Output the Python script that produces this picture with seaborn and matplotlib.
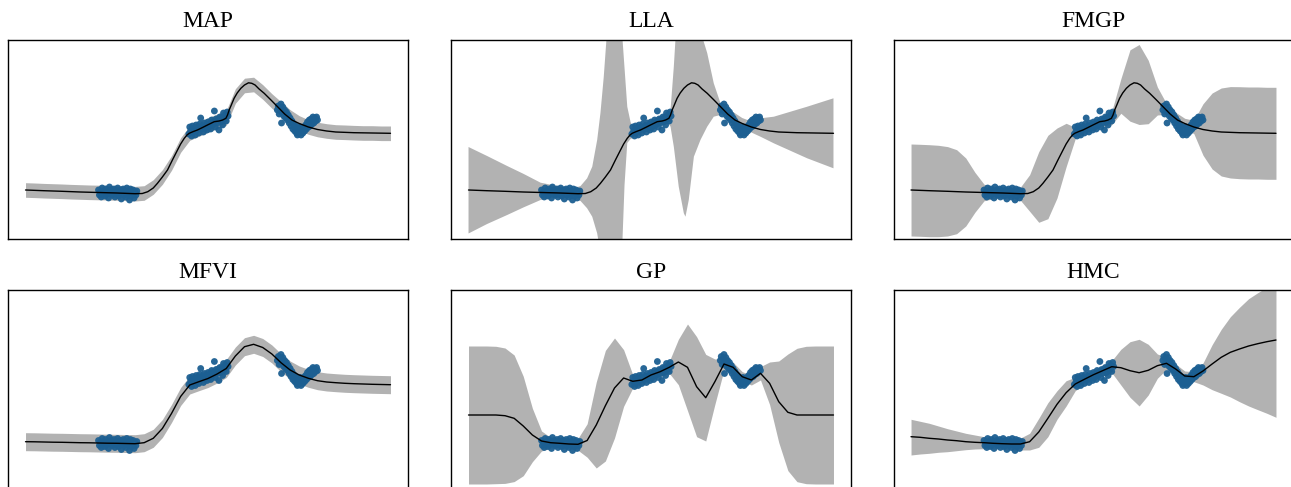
import numpy as np
import pandas as pd
import matplotlib.pyplot as plt
import seaborn as sns

x_grid = [-1.00, -0.95, -0.90, -0.85, -0.80, -0.75, -0.70, -0.65, -0.60, -0.55,
          -0.50, -0.45, -0.40, -0.35, -0.30, -0.25, -0.20, -0.15, -0.10, -0.05,
          0.00, 0.05, 0.10, 0.15, 0.20, 0.25, 0.30, 0.35, 0.40, 0.45,
          0.50, 0.55, 0.60, 0.65, 0.70, 0.75, 0.80, 0.85, 0.90, 0.95, 1.00]

# MAP network mean on the grid (centre of MAP / FMGP bands)
mean_map = [-0.51, -0.513, -0.517, -0.52, -0.523, -0.527, -0.53, -0.533, -0.535, -0.537,
            -0.54, -0.543, -0.547, -0.54, -0.48, -0.38, -0.24, -0.06, 0.06, 0.10,
            0.14, 0.177, 0.21, 0.43, 0.535, 0.545, 0.47, 0.38, 0.30, 0.22,
            0.16, 0.12, 0.095, 0.08, 0.07, 0.067, 0.063, 0.06, 0.06, 0.057, 0.057]
noise_map = 0.073

# same MAP mean read more finely for the drawn line (MAP, LLA, FMGP)
x_mline = [-1.00, -0.90, -0.80, -0.70, -0.60, -0.50, -0.40, -0.36, -0.33, -0.30,
           -0.277, -0.25, -0.222, -0.195, -0.167, -0.15, -0.13, -0.115, -0.103, -0.08,
           -0.058, -0.03, -0.003, 0.034, 0.061, 0.08, 0.098, 0.107, 0.116, 0.13,
           0.143, 0.16, 0.18, 0.20, 0.222, 0.24, 0.258, 0.28, 0.308, 0.345,
           0.381, 0.42, 0.46, 0.50, 0.55, 0.60, 0.65, 0.70, 0.80, 0.90, 1.00]
y_mline = [-0.51, -0.517, -0.523, -0.53, -0.535, -0.54, -0.547, -0.545, -0.527, -0.49,
           -0.443, -0.38, -0.31, -0.21, -0.11, -0.05, 0.007, 0.04, 0.057, 0.075,
           0.09, 0.115, 0.14, 0.173, 0.18, 0.19, 0.207, 0.24, 0.29, 0.35,
           0.407, 0.46, 0.507, 0.54, 0.562, 0.557, 0.54, 0.50, 0.457, 0.39,
           0.323, 0.25, 0.19, 0.155, 0.12, 0.095, 0.08, 0.07, 0.063, 0.06, 0.057]

# MFVI
mean_mfvi = [-0.522, -0.523, -0.525, -0.527, -0.528, -0.53, -0.532, -0.533, -0.535, -0.537,
             -0.538, -0.54, -0.542, -0.532, -0.488, -0.39, -0.24, -0.07, 0.045, 0.078,
             0.11, 0.155, 0.21, 0.335, 0.428, 0.452, 0.42, 0.355, 0.268, 0.195,
             0.145, 0.112, 0.088, 0.075, 0.068, 0.062, 0.058, 0.055, 0.052, 0.05, 0.048]
noise_mfvi = 0.09

# LLA band (own x positions, spikes need more points)
x_lla = [-1.0, -0.898, -0.788, -0.697, -0.605, -0.514, -0.423, -0.386, -0.35, -0.322,
         -0.295, -0.277, -0.259, -0.24, -0.213, -0.185, -0.167, -0.156, -0.145, -0.13,
         -0.112, -0.1, -0.05, 0.0, 0.05, 0.09, 0.107, 0.125, 0.134, 0.152,
         0.18, 0.189, 0.207, 0.235, 0.271, 0.308, 0.344, 0.381, 0.4, 0.45,
         0.5, 0.55, 0.6, 0.673, 0.856, 1.0]
hi_lla = [-0.08, -0.17, -0.27, -0.35, -0.437, -0.47, -0.493, -0.47, -0.393, -0.277,
          -0.01, 0.26, 0.62, 1.1, 1.99, 2.19, 1.69, 0.995, 0.71, 0.323,
          0.17, 0.11, 0.15, 0.19, 0.23, 0.28, 0.29, 0.723, 0.995, 1.49,
          1.79, 1.79, 1.64, 1.28, 1.08, 0.86, 0.557, 0.357, 0.35, 0.27,
          0.21, 0.175, 0.207, 0.223, 0.323, 0.407]
lo_lla = [-0.945, -0.85, -0.76, -0.683, -0.61, -0.583, -0.60, -0.62, -0.693, -0.777,
          -0.943, -1.14, -1.34, -1.81, -2.61, -2.81, -2.11, -0.995, -0.46, -0.04,
          0.0, 0.01, 0.05, 0.09, 0.13, 0.17, 0.123, -0.077, -0.21, -0.477,
          -0.743, -0.777, -0.61, -0.177, -0.01, 0.123, 0.223, 0.24, 0.25, 0.17,
          0.11, 0.065, 0.023, -0.043, -0.193, -0.293]

# FMGP half width around the MAP mean
w_fmgp = [0.46, 0.46, 0.46, 0.457, 0.447, 0.42, 0.34, 0.2, 0.083, 0.06,
          0.053, 0.053, 0.067, 0.183, 0.353, 0.417, 0.35, 0.217, 0.057, 0.05,
          0.05, 0.05, 0.067, 0.173, 0.357, 0.4, 0.317, 0.14, 0.053, 0.047,
          0.047, 0.067, 0.257, 0.38, 0.44, 0.457, 0.46, 0.46, 0.46, 0.46, 0.46]

# GP
mean_gp = [-0.255, -0.255, -0.255, -0.255, -0.262, -0.288, -0.365, -0.455, -0.515, -0.532,
           -0.538, -0.545, -0.548, -0.51, -0.355, -0.162, 0.015, 0.115, 0.082, 0.095,
           0.145, 0.178, 0.222, 0.275, 0.222, 0.028, -0.082, 0.078, 0.255, 0.222,
           0.128, 0.095, 0.162, 0.062, -0.122, -0.228, -0.255, -0.255, -0.255, -0.255, -0.255]
w_gp = [0.69, 0.69, 0.69, 0.687, 0.677, 0.633, 0.497, 0.267, 0.1, 0.053,
        0.05, 0.05, 0.06, 0.167, 0.43, 0.553, 0.5, 0.283, 0.067, 0.05,
        0.05, 0.05, 0.06, 0.227, 0.433, 0.5, 0.433, 0.227, 0.06, 0.05,
        0.05, 0.05, 0.067, 0.213, 0.407, 0.583, 0.667, 0.687, 0.69, 0.69, 0.69]

# HMC
mean_hmc = [-0.472, -0.478, -0.488, -0.495, -0.505, -0.512, -0.522, -0.528, -0.532, -0.538,
            -0.542, -0.545, -0.545, -0.522, -0.425, -0.288, -0.148, -0.032, 0.055, 0.102,
            0.148, 0.188, 0.228, 0.218, 0.188, 0.168, 0.192, 0.238, 0.262, 0.205,
            0.135, 0.128, 0.185, 0.255, 0.322, 0.372, 0.405, 0.435, 0.458, 0.478, 0.495]
hi_hmc = [-0.298, -0.318, -0.338, -0.365, -0.392, -0.415, -0.438, -0.455, -0.472, -0.485,
          -0.488, -0.492, -0.485, -0.438, -0.288, -0.132, -0.012, 0.088, 0.122, 0.152,
          0.198, 0.238, 0.288, 0.402, 0.478, 0.502, 0.452, 0.355, 0.322, 0.255,
          0.185, 0.178, 0.265, 0.448, 0.602, 0.728, 0.822, 0.908, 0.968, 1.022, 1.078]
lo_hmc = [-0.655, -0.645, -0.638, -0.628, -0.622, -0.612, -0.602, -0.595, -0.592, -0.592,
          -0.595, -0.598, -0.605, -0.605, -0.578, -0.472, -0.298, -0.165, -0.012, 0.052,
          0.098, 0.138, 0.168, 0.045, -0.078, -0.165, -0.055, 0.112, 0.202, 0.155,
          0.085, 0.078, 0.045, -0.002, -0.038, -0.075, -0.122, -0.165, -0.202, -0.238, -0.278]

# --- training points (three clusters) ---
xa = [-0.600, -0.595, -0.590, -0.585, -0.580, -0.575, -0.570, -0.565, -0.560, -0.555,
      -0.550, -0.545, -0.540, -0.535, -0.530, -0.525, -0.520, -0.515, -0.510, -0.505,
      -0.500, -0.495, -0.490, -0.485, -0.480, -0.475, -0.470, -0.465, -0.460, -0.455,
      -0.450, -0.445, -0.440, -0.435, -0.430, -0.425, -0.420, -0.415, -0.410, -0.405,
      -0.400, -0.395, -0.390]
ya = [-0.51, -0.56, -0.53, -0.58, -0.49, -0.54, -0.52, -0.57, -0.50, -0.55,
      -0.53, -0.59, -0.48, -0.54, -0.51, -0.56, -0.53, -0.50, -0.58, -0.55,
      -0.52, -0.49, -0.57, -0.54, -0.51, -0.60, -0.53, -0.50, -0.56, -0.52,
      -0.58, -0.49, -0.55, -0.53, -0.61, -0.50, -0.57, -0.54, -0.51, -0.59,
      -0.53, -0.56, -0.52]
xb = [-0.105, -0.10, -0.095, -0.09, -0.085, -0.08, -0.075, -0.07, -0.065, -0.06,
      -0.055, -0.05, -0.045, -0.04, -0.035, -0.03, -0.025, -0.02, -0.015, -0.01,
      -0.005, 0.00, 0.005, 0.01, 0.015, 0.02, 0.025, 0.03, 0.035, 0.04,
      0.045, 0.05, 0.055, 0.06, 0.065, 0.07, 0.075, 0.08, 0.085, 0.09,
      0.095, 0.10, 0.105, 0.11]
yb = [0.05, 0.12, 0.08, 0.03, 0.13, 0.07, 0.10, 0.04, 0.14, 0.09,
      0.12, 0.06, 0.15, 0.21, 0.10, 0.13, 0.07, 0.16, 0.11, 0.14,
      0.09, 0.17, 0.12, 0.15, 0.10, 0.19, 0.14, 0.17, 0.28, 0.12,
      0.20, 0.16, 0.19, 0.09, 0.22, 0.17, 0.21, 0.14, 0.26, 0.20,
      0.24, 0.18, 0.27, 0.23]
xc = [0.380, 0.385, 0.39, 0.395, 0.40, 0.403, 0.405, 0.41, 0.415, 0.42,
      0.425, 0.43, 0.435, 0.44, 0.445, 0.45, 0.455, 0.46, 0.465, 0.47,
      0.475, 0.48, 0.485, 0.49, 0.495, 0.50, 0.505, 0.51, 0.515, 0.52,
      0.525, 0.53, 0.535, 0.54, 0.545, 0.55, 0.555, 0.56, 0.565, 0.57,
      0.575, 0.58, 0.585, 0.59, 0.595, 0.60]
yc = [0.29, 0.33, 0.25, 0.31, 0.35, 0.16, 0.27, 0.32, 0.23, 0.29,
      0.21, 0.27, 0.19, 0.24, 0.16, 0.21, 0.13, 0.18, 0.10, 0.15,
      0.08, 0.13, 0.06, 0.04, 0.11, 0.06, 0.12, 0.04, 0.09, 0.06,
      0.12, 0.08, 0.14, 0.10, 0.17, 0.12, 0.19, 0.13, 0.20, 0.15,
      0.22, 0.16, 0.21, 0.18, 0.22, 0.19]

titles = ["MAP", "LLA", "FMGP", "MFVI", "GP", "HMC"]

pts = pd.DataFrame({"x": xa + xb + xc, "y": ya + yb + yc})

m_map = np.array(mean_map)
m_mfvi = np.array(mean_mfvi)
m_gp = np.array(mean_gp)

# (x band, lower, upper, x mean, mean) for each panel
panels = {
    "MAP": (x_grid, m_map - noise_map, m_map + noise_map, x_mline, y_mline),
    "LLA": (x_lla, lo_lla, hi_lla, x_mline, y_mline),
    "FMGP": (x_grid, m_map - np.array(w_fmgp), m_map + np.array(w_fmgp), x_mline, y_mline),
    "MFVI": (x_grid, m_mfvi - noise_mfvi, m_mfvi + noise_mfvi, x_grid, mean_mfvi),
    "GP": (x_grid, m_gp - np.array(w_gp), m_gp + np.array(w_gp), x_grid, mean_gp),
    "HMC": (x_grid, lo_hmc, hi_hmc, x_grid, mean_hmc),
}

sns.set_style("white")
plt.rcParams["axes.edgecolor"] = "black"
plt.rcParams["axes.linewidth"] = 1.0

W, H = 1291, 487
fig = plt.figure(figsize=(W / 100, H / 100), dpi=100)
lefts = [8, 451, 893.5]
tops = [39.5, 290]
aw, ah = 400, 199

for i, name in enumerate(titles):
    r, c = divmod(i, 3)
    rect = [lefts[c] / W, (H - tops[r] - ah) / H, aw / W, ah / H]
    ax = fig.add_axes(rect)
    xb_, lo, hi, xm, m = panels[name]
    ax.fill_between(xb_, lo, hi, color="gray", alpha=0.6, linewidth=0, zorder=1)
    sns.scatterplot(data=pts, x="x", y="y", ax=ax, color="#1c5f92", s=24,
                    edgecolor="none", linewidth=0, alpha=0.95, zorder=2, legend=False)
    sns.lineplot(x=xm, y=m, ax=ax, color="black", linewidth=1.0, sort=False,
                 estimator=None, zorder=3)
    ax.set_xlim(-1.096, 1.096)
    ax.set_ylim(-0.995, 0.995)
    ax.set_xticks([])
    ax.set_yticks([])
    ax.set_xlabel("")
    ax.set_ylabel("")
    ax.set_title(name, fontsize=17, family=["Liberation Serif", "DejaVu Serif"],
                 color="black", pad=9)

fig.savefig("out.png", dpi=100)
